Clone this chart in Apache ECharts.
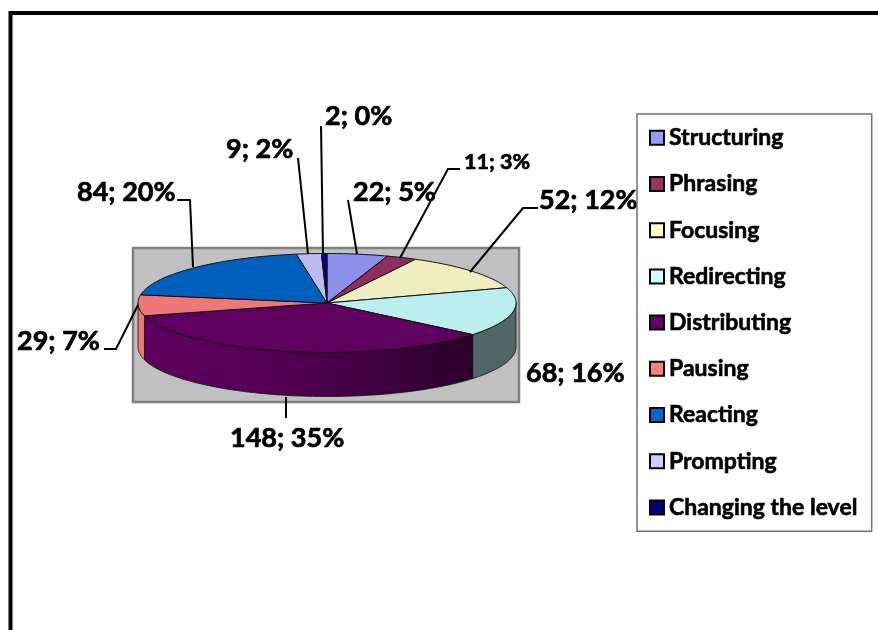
<!DOCTYPE html>
<html>
<head>
<meta charset="utf-8">
<style>
  html, body { margin: 0; padding: 0; background: #fff; }
  #chart { width: 878px; height: 630px; }
</style>
</head>
<body>
<div id="chart"></div>
<script src="https://cdn.jsdelivr.net/npm/echarts@6/dist/echarts.min.js"></script>
<script>
// chart values
const categories = ['Structuring', 'Phrasing', 'Focusing', 'Redirecting', 'Distributing', 'Pausing', 'Reacting', 'Prompting', 'Changing the level'];
const values = [22, 11, 52, 68, 148, 29, 84, 9, 2];

// colours
const legendColors = ['#9999ff', '#993366', '#ffffcc', '#ccffff', '#660066', '#ff8080', '#0066cc', '#ccccff', '#000080'];
const topColors = ['#8f8fee', '#8c2f5e', '#eeeec0', '#bbeeee', '#5e005e', '#ee7777', '#005ebd', '#bbbbee', '#000078'];
const wallColors = ['#8f8fee', '#8c2f5e', '#eeeec0', '#526666', '#5e005e', '#ee7777', '#005ebd', '#bbbbee', '#000078'];

// where the disc sits on the page
const disc = { cx: 327, cy: 303, rx: 189, ry: 49.5, depth: 44 };

// label text position and leader line for each slice
const labelSpots = [
  { x: 353, y: 192, size: 27, line: [[348, 200], [357, 254]] },
  { x: 464, y: 162, size: 21.5, line: [[460, 169], [448, 169], [400, 258]] },
  { x: 539, y: 200, size: 27, line: [[538, 208], [523, 208], [470, 272]] },
  { x: 526, y: 373, size: 27, line: null },
  { x: 230, y: 438, size: 27, line: [[286, 397], [286, 418]] },
  { x: 17, y: 341, size: 27, line: [[104, 349], [116, 349], [138, 305]] },
  { x: 77, y: 192, size: 27, line: [[177, 200], [190, 200], [193, 267]] },
  { x: 226, y: 149, size: 27, line: [[298, 158], [308, 254]] },
  { x: 325, y: 116, size: 27, line: [[321, 126], [323, 254]] }
];

const total = values.reduce((a, b) => a + b, 0);
const starts = [];
values.reduce((sum, v, i) => {
  starts[i] = sum;
  return sum + v;
}, 0);

// angle is clockwise from 12 o'clock, in degrees
function ellipsePoint(deg, drop) {
  const t = deg * Math.PI / 180;
  return [disc.cx + disc.rx * Math.sin(t), disc.cy - disc.ry * Math.cos(t) + drop];
}

function arcPoints(from, to, drop) {
  const pts = [];
  const steps = Math.max(2, Math.ceil(Math.abs(to - from)));
  for (let i = 0; i <= steps; i++) {
    pts.push(ellipsePoint(from + (to - from) * i / steps, drop));
  }
  return pts;
}

function wallFill(index) {
  // the big slice gets darker towards the right
  if (index === 4) {
    return new echarts.graphic.LinearGradient(0, 0, 1, 0, [
      { offset: 0, color: '#5e005e' },
      { offset: 0.35, color: '#560056' },
      { offset: 1, color: '#2a002a' }
    ]);
  }
  return wallColors[index];
}

function renderSlice(index) {
  return function (params, api) {
    const value = api.value(0);
    const from = api.value(1) / total * 360;
    const to = from + value / total * 360;
    const children = [];

    // outer wall, only the front half of the disc shows
    const wallFrom = Math.max(from, 90);
    const wallTo = Math.min(to, 270);
    if (wallTo > wallFrom) {
      const wallTop = arcPoints(wallFrom, wallTo, 0);
      const wallBottom = arcPoints(wallFrom, wallTo, disc.depth).reverse();
      children.push({
        type: 'polygon',
        shape: { points: wallTop.concat(wallBottom) },
        style: { fill: wallFill(index), stroke: '#111', lineWidth: 0.8 }
      });
    }

    // top face
    children.push({
      type: 'polygon',
      shape: { points: [[disc.cx, disc.cy]].concat(arcPoints(from, to, 0)) },
      style: { fill: topColors[index], stroke: '#111', lineWidth: 1 }
    });

    const spot = labelSpots[index];
    if (spot.line) {
      children.push({
        type: 'polyline',
        shape: { points: spot.line },
        style: { fill: null, stroke: '#000', lineWidth: 2 },
        z2: 20
      });
    }
    children.push({
      type: 'text',
      x: spot.x,
      y: spot.y,
      style: {
        text: value + '; ' + Math.round(value / total * 100) + '%',
        fill: '#000',
        stroke: '#000',
        lineWidth: 0.7,
        font: 'bold ' + spot.size + 'px Lato',
        textVerticalAlign: 'middle'
      },
      z2: 30
    });

    return { type: 'group', children: children };
  };
}

const chart = echarts.init(document.getElementById('chart'), null, { renderer: 'canvas' });

chart.setOption({
  animation: false,
  backgroundColor: '#fff',
  tooltip: { show: false },
  legend: {
    orient: 'vertical',
    left: 637,
    top: 114,
    padding: [12, 14, 12, 12],
    itemGap: 22.6,
    itemWidth: 14,
    itemHeight: 14,
    icon: 'rect',
    selectedMode: false,
    borderColor: '#707070',
    borderWidth: 1.5,
    backgroundColor: '#fff',
    textStyle: {
      fontFamily: 'Lato',
      fontWeight: 'bold',
      fontSize: 23,
      color: '#000',
      textBorderColor: '#000',
      textBorderWidth: 0.6
    },
    data: categories.map((name, i) => ({
      name: name,
      itemStyle: { color: legendColors[i], borderColor: '#000', borderWidth: 2 }
    }))
  },
  graphic: [
    // plot backdrop
    {
      type: 'rect',
      z: 0,
      shape: { x: 133, y: 248, width: 386, height: 154 },
      style: { fill: '#c0c0c0', stroke: '#808080', lineWidth: 2.5 }
    },
    // outer frame, only its top and left edges fall on the page
    {
      type: 'polyline',
      z: 0,
      shape: { points: [[10.5, 630], [10.5, 13], [878, 13]] },
      style: { fill: null, stroke: '#000', lineWidth: 4 }
    }
  ],
  series: categories.map((name, i) => ({
    type: 'custom',
    name: name,
    coordinateSystem: 'none',
    itemStyle: { color: legendColors[i] },
    data: [[values[i], starts[i]]],
    renderItem: renderSlice(i)
  }))
});
</script>
</body>
</html>
